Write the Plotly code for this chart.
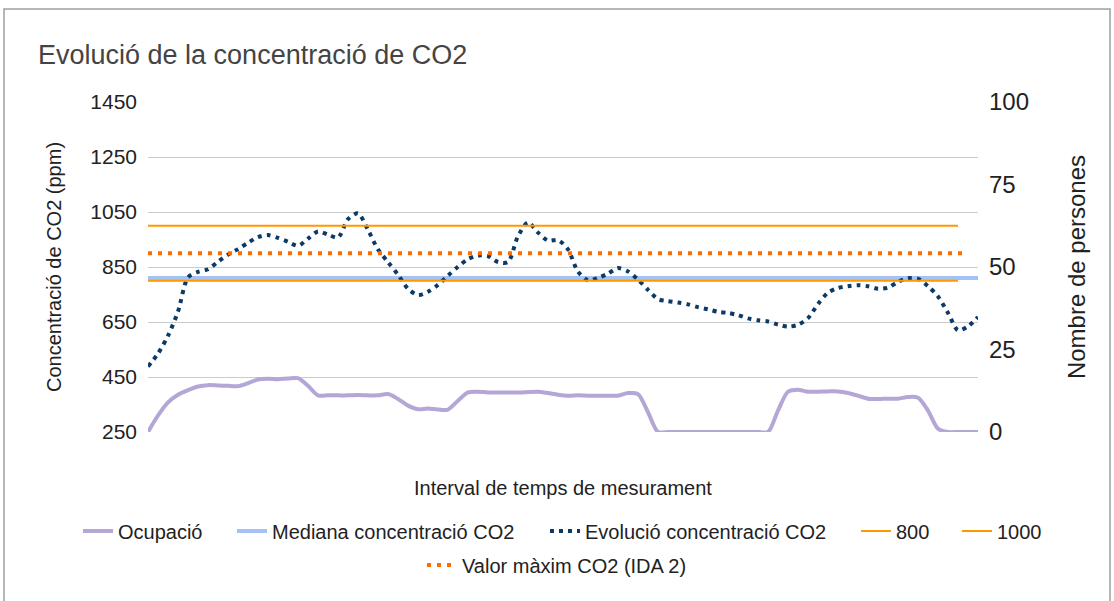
import plotly.graph_objects as go

# ---- data ----
intervals = list(range(1, 85))

co2_ppm = [488, 535, 600, 688, 812, 832, 842, 869, 895, 915,
           938, 959, 966, 956, 942, 927, 953, 979, 968, 957,
           1024, 1045, 985, 914, 868, 822, 771, 748, 760, 785,
           819, 851, 879, 892, 890, 868, 868, 962, 1012, 975,
           946, 948, 914, 833, 802, 810, 826, 846, 834, 804,
           767, 733, 726, 721, 714, 704, 696, 687, 683, 675,
           663, 656, 652, 641, 633, 640, 664, 715, 757, 774,
           780, 784, 780, 771, 775, 796, 809, 807, 780, 743,
           683, 620, 634, 668]

occupancy = [0, 5, 9, 11.3, 12.7, 13.8, 14.2, 14.1, 14.0, 13.9,
             14.8, 15.9, 16.1, 16.0, 16.2, 16.3, 14.0, 11.1, 11.1, 11.1,
             11.1, 11.2, 11.1, 11.1, 11.5, 10.0, 8.0, 6.9, 7.1, 6.8,
             6.8, 9.5, 12.0, 12.2, 12.0, 12.0, 12.0, 12.0, 12.1, 12.2,
             11.8, 11.3, 11.0, 11.1, 11.0, 11.0, 11.0, 11.0, 11.8, 11.5,
             6.0, 0, 0, 0, 0, 0, 0, 0, 0, 0,
             0, 0, 0, 6.5, 12.2, 12.8, 12.2, 12.2, 12.3, 12.3,
             11.8, 11.0, 10.1, 10.0, 10.1, 10.1, 10.6, 10.4, 6.5, 1.0,
             0, 0, 0, 0]

median_co2 = [810] * 84
limit_800 = [800] * 82
limit_1000 = [1000] * 82
ida2_max = [900] * 83

FONT = "Arial, Liberation Sans, sans-serif"
TXT = "#222222"

fig = go.Figure()

fig.add_trace(go.Scatter(
    x=intervals, y=occupancy, name="Ocupació", yaxis="y2", mode="lines",
    legend="legend",
    line=dict(color="#b4a7d6", width=4, shape="spline", smoothing=0.8)))
fig.add_trace(go.Scatter(
    x=intervals, y=median_co2, name="Mediana concentració CO2", mode="lines",
    legend="legend2",
    line=dict(color="#a4c2f4", width=4)))
fig.add_trace(go.Scatter(
    x=intervals, y=co2_ppm, name="Evolució concentració CO2", mode="lines",
    legend="legend3",
    line=dict(color="#0b3a66", width=4, dash="4px,5px", shape="spline", smoothing=0.8)))
fig.add_trace(go.Scatter(
    x=intervals[:len(limit_800)], y=limit_800, name="800", mode="lines",
    legend="legend4",
    line=dict(color="#ff9900", width=2)))
fig.add_trace(go.Scatter(
    x=intervals[:len(limit_1000)], y=limit_1000, name="1000", mode="lines",
    legend="legend5",
    line=dict(color="#ff9900", width=2)))
fig.add_trace(go.Scatter(
    x=intervals[:len(ida2_max)], y=ida2_max, name="Valor màxim CO2 (IDA 2)", mode="lines",
    legend="legend6",
    line=dict(color="#ff6d01", width=4, dash="4px,6px")))


def legend_at(text_left, y_center):
    return dict(orientation="h", xref="container", yref="container",
                x=(text_left - 40) / 1114, xanchor="left",
                y=1 - y_center / 601, yanchor="middle",
                font=dict(size=20, color=TXT), itemwidth=30,
                bgcolor="rgba(0,0,0,0)", borderwidth=0)


fig.update_layout(
    width=1114, height=601,
    margin=dict(l=148, r=136, t=102, b=169, autoexpand=False),
    paper_bgcolor="white", plot_bgcolor="white",
    font=dict(family=FONT, color=TXT),
    title=dict(text="Evolució de la concentració de CO2", x=38 / 1114, xanchor="left",
               y=1 - 55 / 601, yanchor="middle", xref="container", yref="container",
               font=dict(size=27, color="#444444", family=FONT)),
    xaxis=dict(range=[1, 84], showticklabels=False, showgrid=False, zeroline=False,
               showline=False, ticks=""),
    yaxis=dict(range=[250, 1450], tick0=250, dtick=200, gridcolor="#cccccc", gridwidth=1,
               zeroline=False, showline=False, ticks="", ticklabelstandoff=10,
               tickfont=dict(size=21, color=TXT),
               title=dict(text="Concentració de CO2 (ppm)", standoff=23,
                          font=dict(size=20, color=TXT))),
    yaxis2=dict(range=[0, 100], tick0=0, dtick=25, overlaying="y", side="right",
                showgrid=False, zeroline=False, showline=False, ticks="", ticklabelstandoff=10,
                tickfont=dict(size=24, color=TXT),
                title=dict(text="Nombre de persones", standoff=40,
                           font=dict(size=24, color=TXT))),
    legend=legend_at(118, 531),
    legend2=legend_at(272, 531),
    legend3=legend_at(585, 531),
    legend4=legend_at(896, 531),
    legend5=legend_at(997, 531),
    legend6=legend_at(462, 565),
    showlegend=True,
    annotations=[dict(text="Interval de temps de mesurament", xref="paper", yref="paper",
                      x=0.5, xanchor="center", y=(432 - 488) / 330, yanchor="middle",
                      showarrow=False, font=dict(size=20, color=TXT))],
    shapes=[dict(type="rect", xref="paper", yref="paper",
                 x0=(4 - 148) / 830, x1=(1110 - 148) / 830,
                 y0=(432 - 640) / 330, y1=(432 - 9) / 330,
                 line=dict(color="#9e9e9e", width=1.5), layer="below")],
)

fig.write_html("out.html", config={"displayModeBar": False},
               post_script="document.body.style.margin='0';")
